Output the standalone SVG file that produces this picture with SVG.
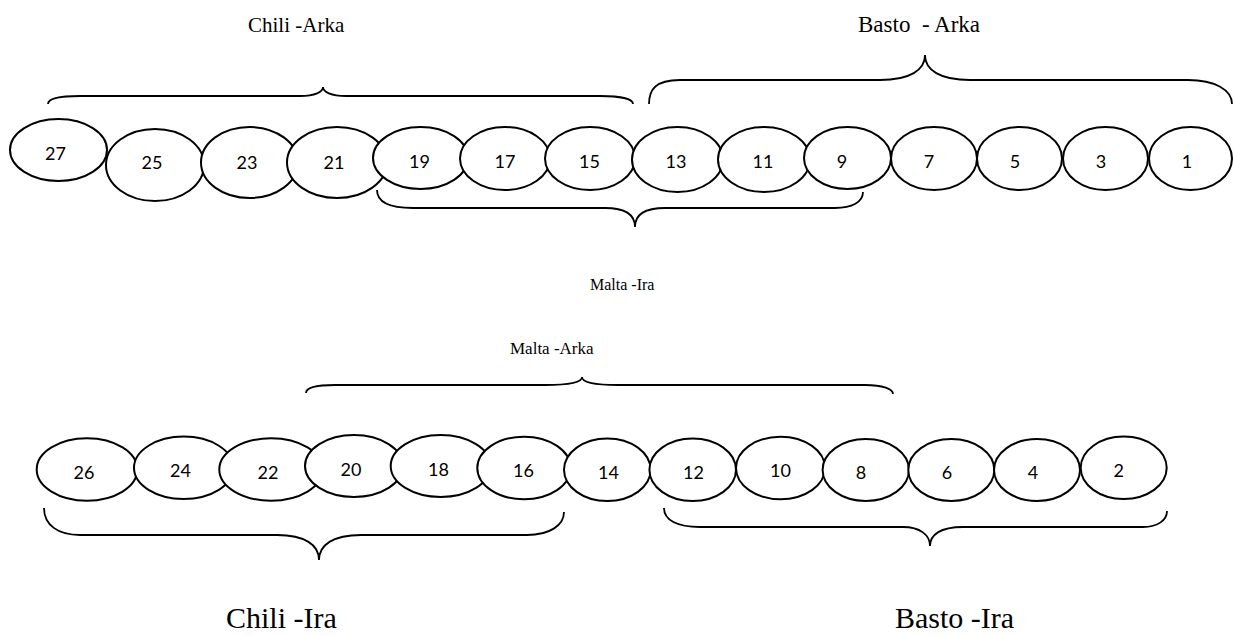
<svg xmlns="http://www.w3.org/2000/svg" width="1233" height="636" viewBox="0 0 1233 636">
<style>
.n ellipse{fill:#fff;stroke:#000;stroke-width:2}
.n text{font-family:Lato,"Open Sans",sans-serif;font-size:18px;fill:#000;text-anchor:middle}
.b path{fill:none;stroke:#000;stroke-width:1.8}
.lbl{font-family:"Liberation Serif","Times New Roman",serif;fill:#000}
</style>
<rect width="1233" height="636" fill="#fff"/>
<g id="n27" class="n"><ellipse cx="58.5" cy="150" rx="48.5" ry="31"/><text x="55.5" y="160">27</text></g>
<g id="n25" class="n"><ellipse cx="155" cy="165" rx="49" ry="36"/><text x="152" y="169">25</text></g>
<g id="n23" class="n"><ellipse cx="249.5" cy="162.5" rx="48.5" ry="35.5"/><text x="247" y="169">23</text></g>
<g id="n21" class="n"><ellipse cx="337" cy="162.5" rx="50" ry="35.5"/><text x="334" y="169">21</text></g>
<g id="n19" class="n"><ellipse cx="420.5" cy="158" rx="47.5" ry="31"/><text x="419.5" y="168">19</text></g>
<g id="n17" class="n"><ellipse cx="505" cy="158.5" rx="45" ry="31.5"/><text x="505" y="168">17</text></g>
<g id="n15" class="n"><ellipse cx="590" cy="158.5" rx="45" ry="31.5"/><text x="589.5" y="168">15</text></g>
<g id="n13" class="n"><ellipse cx="677.5" cy="159.5" rx="45.5" ry="32.5"/><text x="676" y="168">13</text></g>
<g id="n11" class="n"><ellipse cx="764" cy="159.5" rx="46" ry="32.5"/><text x="763" y="168">11</text></g>
<g id="n9" class="n"><ellipse cx="847.5" cy="158" rx="43.5" ry="31"/><text x="842" y="168">9</text></g>
<g id="n7" class="n"><ellipse cx="934" cy="158.5" rx="43" ry="31.5"/><text x="929" y="168">7</text></g>
<g id="n5" class="n"><ellipse cx="1019.5" cy="158.5" rx="42.5" ry="31.5"/><text x="1015" y="168">5</text></g>
<g id="n3" class="n"><ellipse cx="1105.5" cy="158.5" rx="42.5" ry="31.5"/><text x="1101" y="168">3</text></g>
<g id="n1" class="n"><ellipse cx="1190.5" cy="158.5" rx="41.5" ry="31.5"/><text x="1187" y="168">1</text></g>
<g id="n26" class="n"><ellipse cx="87" cy="469.5" rx="50.3" ry="31.2"/><text x="84" y="479">26</text></g>
<g id="n24" class="n"><ellipse cx="183.7" cy="467.8" rx="49.7" ry="31.2"/><text x="180.5" y="477">24</text></g>
<g id="n22" class="n"><ellipse cx="271" cy="469.5" rx="51.7" ry="31.2"/><text x="268" y="479">22</text></g>
<g id="n20" class="n"><ellipse cx="354" cy="466" rx="49" ry="31"/><text x="351" y="476">20</text></g>
<g id="n18" class="n"><ellipse cx="440.7" cy="466" rx="50" ry="31"/><text x="438.5" y="476">18</text></g>
<g id="n16" class="n"><ellipse cx="524" cy="468" rx="46.7" ry="31.3"/><text x="523.5" y="477">16</text></g>
<g id="n14" class="n"><ellipse cx="607.3" cy="469.7" rx="43.3" ry="31.3"/><text x="608.5" y="479">14</text></g>
<g id="n12" class="n"><ellipse cx="692.7" cy="469.7" rx="43.3" ry="31.3"/><text x="693.5" y="479">12</text></g>
<g id="n10" class="n"><ellipse cx="780.5" cy="468" rx="44.5" ry="31.3"/><text x="780.5" y="477">10</text></g>
<g id="n8" class="n"><ellipse cx="865.8" cy="470" rx="43.2" ry="31"/><text x="861" y="479">8</text></g>
<g id="n6" class="n"><ellipse cx="951.3" cy="470" rx="43" ry="31"/><text x="947" y="479">6</text></g>
<g id="n4" class="n"><ellipse cx="1037" cy="470" rx="43" ry="31"/><text x="1033" y="479">4</text></g>
<g id="n2" class="n"><ellipse cx="1123.7" cy="467.8" rx="43" ry="31.2"/><text x="1118.7" y="476.5">2</text></g>
<g id="connectors" class="b">
<path d="M48,104 C48,98 60,96 80,96 L300,96 C315,96 323,92 323,87 C323,92 331,96 346,96 L600,96 C620,96 633,99 633,104"/>
<path d="M649,104 C649,90 655,80 680,80 L880,80 C910,80 925,70 925,55 C925,70 940,80 970,80 L1188,80 C1215,80 1232,90 1232,104"/>
<path d="M377,190 C377,202 390,208 413,208 L605,208 C625,208 635,215 635,227 C635,215 645,208 665,208 L835,208 C852,208 863,202 863,192"/>
<path d="M306,393 C306,388 315,385 335,385 L545,385 C570,385 582,382 582,377 C582,382 594,385 618,385 L865,385 C883,385 893,389 893,394"/>
<path d="M44,508 C44,525 58,535 80,535 L277,535 C305,535 319,545 319,560 C319,545 333,535 361,535 L527,535 C550,535 564,525 564,512"/>
<path d="M664,508 C664,520 677,527 700,527 L903,527 C920,527 930,535 930,546 C930,535 940,527 963,527 L1143,527 C1158,527 1167,520 1167,511"/>
</g>
<g id="labels">
<text class="lbl" x="248" y="32" font-size="21">Chili -Arka</text>
<text class="lbl" x="858" y="32" font-size="23" xml:space="preserve">Basto  - Arka</text>
<text class="lbl" x="590" y="290" font-size="16">Malta -Ira</text>
<text class="lbl" x="510" y="354" font-size="17">Malta -Arka</text>
<text class="lbl" x="226" y="628" font-size="30">Chili -Ira</text>
<text class="lbl" x="895" y="628" font-size="30">Basto -Ira</text>
</g>
</svg>
